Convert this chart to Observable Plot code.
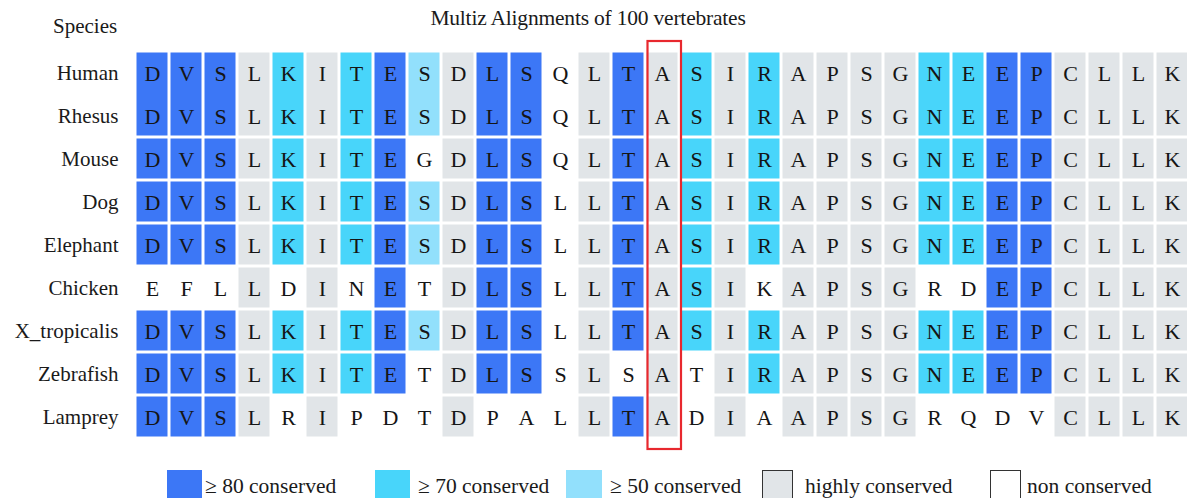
<!DOCTYPE html>
<html>
<head>
<meta charset="utf-8">
<script src="https://cdn.jsdelivr.net/npm/d3@7"></script>
<script src="https://cdn.jsdelivr.net/npm/@observablehq/plot@0.6"></script>
<style>
  html, body { margin: 0; padding: 0; background: #fff; }
  body { width: 1187px; height: 498px; overflow: hidden; font-family: "Liberation Serif", "DejaVu Serif", serif; color: #1a1a1a; }
  #header { position: relative; height: 40px; }
  #title { position: absolute; left: 0; width: 1176px; top: 6px; text-align: center; font-size: 21.5px; letter-spacing: -0.2px; }
  #species { position: absolute; left: 53px; top: 14px; font-size: 21px; }
  #chart svg { display: block; }
  #legend { position: relative; height: 38px; }
  .sw { position: absolute; top: 10px; height: 30px; box-sizing: border-box; }
  .lt { position: absolute; top: 14px; font-size: 21.5px; white-space: nowrap; }
</style>
</head>
<body>
<div id="header"><div id="title"></div><div id="species">Species</div></div>
<div id="chart"></div>
<div id="legend"></div>
<script>
const title = "Multiz Alignments of 100 vertebrates";
const species = ["Human", "Rhesus", "Mouse", "Dog", "Elephant", "Chicken", "X_tropicalis", "Zebrafish", "Lamprey"];
const sequences = [
  "DVSLKITESDLSQLTASIRAPSGNEEPCLLK",
  "DVSLKITESDLSQLTASIRAPSGNEEPCLLK",
  "DVSLKITEGDLSQLTASIRAPSGNEEPCLLK",
  "DVSLKITESDLSLLTASIRAPSGNEEPCLLK",
  "DVSLKITESDLSLLTASIRAPSGNEEPCLLK",
  "EFLLDINETDLSLLTASIKAPSGRDEPCLLK",
  "DVSLKITESDLSLLTASIRAPSGNEEPCLLK",
  "DVSLKITETDLSSLSATIRAPSGNEEPCLLK",
  "DVSLRIPDTDPALLTADIAAPSGRQDVCLLK"
];
// B: >=80 conserved, C: >=70, L: >=50, G: highly conserved, W: non conserved
const levels = [
  "BBBGCGCBLGBBWGBGCGCGGGGCCBBGGGG",
  "BBBGCGCBLGBBWGBGCGCGGGGCCBBGGGG",
  "BBBGCGCBWGBBWGBGCGCGGGGCCBBGGGG",
  "BBBGCGCBLGBBWGBGCGCGGGGCCBBGGGG",
  "BBBGCGCBLGBBWGBGCGCGGGGCCBBGGGG",
  "WWWGWGWBWGBBWGBGCGWGGGGWWBBGGGG",
  "BBBGCGCBLGBBWGBGCGCGGGGCCBBGGGG",
  "BBBGCGCBWGBBWGWGWGCGGGGCCBBGGGG",
  "BBBGWGWWWGWWWGBGWGWGGGGWWWWGGGG"
];
const levelCodes = ["B", "C", "L", "G", "W"];
const levelColors = ["#3c77f6", "#48d5fa", "#92e0fc", "#e1e5e8", "#ffffff"];
const levelNames = ["\u2265 80 conserved", "\u2265 70 conserved", "\u2265 50 conserved", "highly conserved", "non conserved"];
const highlightColumn = 15;

const cells = [];
species.forEach((sp, r) => {
  for (let c = 0; c < sequences[r].length; c++) {
    cells.push({species: sp, col: c, aa: sequences[r][c], level: levels[r][c]});
  }
});
const nCols = sequences[0].length;
const cols = d3.range(nCols);
const pitch = 34.07;
const x0 = 133.5;
const serif = '"Liberation Serif", serif';

const common = {x: "col", y: "species", fill: "level"};
const plot = Plot.plot({
  width: 1187,
  height: 420,
  marginTop: 0,
  marginBottom: 10,
  marginLeft: x0,
  marginRight: 0,
  style: {fontFamily: serif, background: "#fff", overflow: "visible"},
  x: {type: "band", domain: cols, range: [x0, x0 + nCols * pitch], padding: 0, axis: null},
  y: {type: "band", domain: species, range: [10.5, 10.5 + 9 * 43.1], padding: 0, label: null},
  color: {type: "ordinal", domain: levelCodes, range: levelColors, legend: false},
  marks: [
    Plot.cell(cells.filter(d => d.species === "Human" && d.level !== "W"), {...common, insetLeft: 1.5, insetRight: 1.5, insetTop: 1.5, insetBottom: 0}),
    Plot.cell(cells.filter(d => d.species === "Rhesus" && d.level !== "W"), {...common, insetLeft: 1.5, insetRight: 1.5, insetTop: 0, insetBottom: 1.5}),
    Plot.cell(cells.filter(d => d.species !== "Human" && d.species !== "Rhesus" && d.level !== "W"), {...common, inset: 1.5}),
    Plot.text(cells, {x: "col", y: "species", text: "aa", fontSize: 22, fontFamily: serif, fill: "#151515", dy: 1}),
    Plot.cell([highlightColumn], {x: d => d, fill: "none", stroke: "#e8282e", strokeWidth: 2.2, insetLeft: 2.5, insetRight: -2, insetTop: 1, insetBottom: 1}),
    Plot.axisY({tickSize: 0, tickPadding: 15.5, fontSize: 21, fontFamily: serif, label: null, fill: "#1a1a1a"})
  ]
});
document.getElementById("chart").appendChild(plot);
document.getElementById("title").textContent = title;

// legend
const legendSwatchX = [167, 375, 566, 762, 990];
const legendSwatchW = [35, 35, 36, 31, 31];
const legendTextX = [205, 418, 610, 805, 1027];
const lg = document.getElementById("legend");
levelCodes.forEach((code, i) => {
  const sw = document.createElement("div");
  sw.className = "sw";
  sw.style.left = legendSwatchX[i] + "px";
  sw.style.width = legendSwatchW[i] + "px";
  sw.style.background = levelColors[i];
  if (code === "G" || code === "W") sw.style.border = "1.5px solid #333";
  lg.appendChild(sw);
  const t = document.createElement("div");
  t.className = "lt";
  t.style.left = legendTextX[i] + "px";
  t.textContent = levelNames[i];
  lg.appendChild(t);
});
</script>
</body>
</html>
